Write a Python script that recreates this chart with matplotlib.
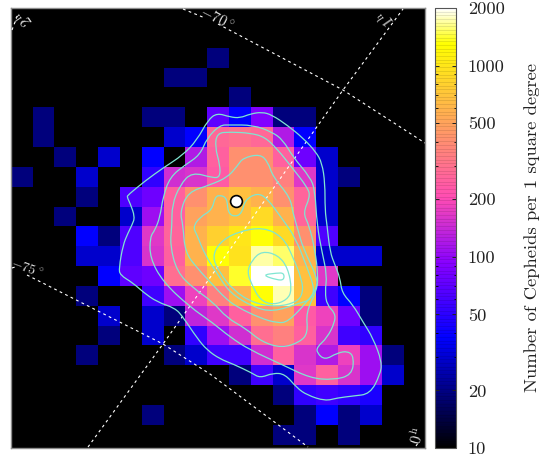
#!/usr/bin/env python3
"""
Cepheid surface density map with contours and a log colour bar
"""

import matplotlib
matplotlib.use('Agg')
import matplotlib.pyplot as plt
from matplotlib.colors import LogNorm
from matplotlib.patches import PathPatch
from matplotlib.path import Path
import numpy as np

plt.rcParams['font.family'] = ['cmr10', 'DejaVu Sans']
plt.rcParams['mathtext.fontset'] = 'cm'
plt.rcParams['axes.formatter.use_mathtext'] = True

# cells per map row, as {column: count}
# read off the colour of each square, empty squares are below the colour range
rows = [
    {},
    {},
    {9: 19},
    {7: 19, 8: 19},
    {10: 19},
    {1: 19, 6: 19, 7: 19, 9: 71, 10: 38, 11: 88, 12: 19, 13: 19},
    {1: 19, 7: 29, 8: 38, 9: 270, 10: 300, 11: 270, 12: 120, 13: 38},
    {2: 19, 4: 29, 6: 38, 8: 120, 9: 251, 10: 410, 11: 410, 12: 251, 13: 79, 14: 29},
    {0: 19, 3: 29, 6: 52, 7: 150, 8: 157, 9: 234, 10: 410, 11: 410, 12: 345, 13: 165, 14: 29, 15: 19},
    {3: 19, 5: 64, 6: 79, 7: 251, 8: 410, 9: 578, 10: 680, 11: 578, 12: 410, 13: 260, 14: 29},
    {2: 19, 5: 29, 6: 108, 7: 251, 8: 490, 9: 578, 10: 680, 11: 885, 12: 578, 13: 260, 14: 29},
    {3: 38, 4: 19, 5: 64, 6: 165, 7: 260, 8: 578, 9: 800, 10: 1000, 11: 1320, 12: 885, 13: 410, 14: 64},
    {3: 29, 4: 29, 5: 64, 6: 157, 7: 251, 8: 578, 9: 1320, 10: 950, 11: 1720, 12: 1530, 13: 578, 14: 29, 15: 29, 16: 29},
    {4: 38, 5: 71, 6: 79, 7: 290, 8: 410, 9: 680, 10: 1400, 11: 2000, 12: 2000, 13: 680, 14: 165},
    {3: 19, 6: 57, 7: 108, 8: 185, 9: 345, 10: 578, 11: 1320, 12: 1750, 13: 680, 14: 57, 15: 38, 16: 19},
    {4: 29, 6: 29, 7: 19, 8: 134, 9: 165, 10: 251, 11: 410, 12: 490, 13: 234, 14: 185, 15: 79, 16: 19},
    {4: 19, 6: 29, 8: 52, 9: 108, 10: 150, 11: 290, 12: 345, 13: 251, 14: 157, 15: 57, 16: 52},
    {3: 19, 7: 19, 8: 29, 9: 57, 10: 57, 11: 150, 12: 251, 13: 157, 14: 120, 15: 185, 16: 108, 17: 19},
    {10: 19, 11: 57, 12: 29, 13: 165, 14: 251, 15: 157, 16: 108, 17: 29},
    {12: 19, 13: 52, 14: 57, 15: 52, 16: 45},
    {6: 19, 13: 19, 14: 38, 15: 19, 16: 29},
    {12: 19, 13: 19, 15: 19},
]

cbar_ticks = [10, 20, 50, 100, 200, 500, 1000, 2000]
cbar_minor = [30, 40, 60, 70, 80, 90, 300, 400, 600, 700, 800, 900]

# contour levels, traced in map units
contour_a = [(127, 197), (128, 195), (145, 181), (163, 168), (183, 155), (197, 140), (208, 120), (217, 113),
             (230, 117), (240, 118), (250, 114), (262, 112), (272, 115), (287, 125), (303, 138), (316, 152),
             (322, 163), (325, 183), (325, 210), (327, 225), (330, 252), (335, 265), (340, 278), (342, 293),
             (353, 305), (363, 322), (373, 338), (382, 362), (380, 375), (370, 394), (353, 396), (337, 398),
             (325, 401), (307, 395), (297, 388), (285, 374), (273, 373), (260, 378), (252, 373), (233, 364),
             (220, 359), (207, 350), (197, 338), (183, 317), (175, 308), (157, 302), (143, 292), (133, 283),
             (120, 275), (119, 268), (123, 245), (128, 233), (132, 225), (135, 217), (130, 203), (127, 197)]
contour_b = [(220, 125), (207, 138), (200, 155), (185, 165), (170, 177), (163, 197), (160, 217), (155, 230),
             (150, 237), (150, 258), (163, 282), (190, 307), (213, 323), (230, 337), (250, 350), (283, 365),
             (310, 378), (333, 380), (352, 375), (354, 357), (348, 351), (337, 353), (325, 360), (317, 353),
             (317, 347), (327, 338), (335, 322), (335, 313), (327, 305), (325, 292), (327, 275), (322, 252),
             (317, 225), (315, 190), (310, 177), (293, 157), (283, 140), (272, 132), (253, 125), (230, 125),
             (220, 125)]
contour_c = [(217, 133), (215, 147), (220, 165), (220, 177), (213, 178), (192, 172), (180, 185), (172, 205),
             (172, 225), (170, 245), (177, 272), (193, 288), (213, 302), (227, 318), (245, 328), (262, 342),
             (282, 348), (300, 342), (308, 333), (306, 312), (317, 290), (318, 275), (315, 250), (309, 225),
             (303, 213), (310, 197), (308, 188), (290, 165), (278, 150), (265, 137), (250, 133), (230, 132),
             (217, 133)]
contour_d = [(243, 158), (238, 165), (228, 177), (210, 185), (188, 192), (180, 212), (183, 225), (185, 252),
             (197, 268), (213, 285), (225, 298), (237, 307), (260, 318), (277, 323), (288, 322), (307, 302),
             (317, 288), (317, 277), (303, 248), (298, 230), (293, 213), (290, 197), (273, 177), (268, 162),
             (260, 154), (243, 158)]
contour_e = [(193, 227), (200, 217), (212, 210), (215, 197), (220, 195), (227, 198), (228, 213), (235, 217),
             (242, 213), (245, 200), (257, 193), (267, 198), (283, 220), (295, 237), (307, 267), (315, 290),
             (310, 300), (300, 303), (273, 312), (253, 307), (230, 293), (218, 275), (205, 255), (197, 235),
             (193, 227)]
contour_f = [(212, 257), (220, 242), (237, 232), (263, 227), (283, 237), (293, 257), (302, 280), (303, 293),
             (297, 302), (277, 307), (253, 303), (233, 290), (220, 273), (212, 257)]
contour_g = [(247, 272), (252, 260), (262, 251), (278, 255), (288, 268), (292, 290), (287, 300), (273, 305),
             (260, 300), (252, 285), (247, 272)]
contour_h = [(262, 275), (277, 273), (284, 273), (284, 280), (277, 280), (262, 275)]

# coordinate grid, broken where the labels sit
dec_70_a = [(183, 9), (205, 18)]
dec_70_b = [(218, 24), (343, 90), (425, 143)]
dec_75_a = [(12, 268), (15, 267)]
dec_75_b = [(27, 275), (163, 344), (210, 374), (308, 447)]
ra_1h = [(88, 447), (163, 344), (343, 90), (403, 9)]
ra_2h = [(12, 30), (18, 14)]
ra_0h = [(416, 446), (418, 443)]

# the point marked on the map
center = (236, 201)

X0, X1 = 10.7, 425.0
Y0, Y1 = 8.0, 448.0
CELL_W, CELL_H = 21.83, 19.85

grid = np.full((len(rows), 19), np.nan)
for i, row in enumerate(rows):
    for j, val in row.items():
        grid[i, j] = val

xedges = X0 + CELL_W * np.arange(grid.shape[1] + 1)
yedges = Y0 + CELL_H * np.arange(grid.shape[0] + 1)


def smooth_loop(points):
    """Closed path with the traced points as quadratic control points"""
    pts = np.array(points[:-1], dtype=float)
    mids = (pts + np.roll(pts, -1, axis=0)) / 2
    verts = [mids[-1]]
    codes = [Path.MOVETO]
    for p, m in zip(pts, mids):
        verts += [p, m]
        codes += [Path.CURVE3, Path.CURVE3]
    return Path(verts, codes)


fig = plt.figure(figsize=(5.45, 4.57), dpi=100, facecolor='white')
ax = fig.add_axes([X0 / 545, 1 - Y1 / 457, (X1 - X0) / 545, (Y1 - Y0) / 457], facecolor='black')
ax.set_xlim(X0, X1)
ax.set_ylim(Y1, Y0)
ax.set_xticks([])
ax.set_yticks([])
for s in ax.spines.values():
    s.set_color('#8c8c8c')
    s.set_linewidth(1)

norm = LogNorm(vmin=10, vmax=2000)
mesh = ax.pcolormesh(xedges, yedges, grid, cmap='gnuplot2', norm=norm, linewidth=0)

for line in [dec_70_a, dec_70_b, dec_75_a, dec_75_b, ra_1h, ra_2h, ra_0h]:
    xs, ys = zip(*line)
    ax.plot(xs, ys, color='white', lw=0.8, ls=(0, (2.5, 3)), zorder=3)

for line in [contour_a, contour_b, contour_c, contour_d, contour_e, contour_f, contour_g, contour_h]:
    ax.add_patch(PathPatch(smooth_loop(line), fill=False, edgecolor='#7fe6d2', lw=0.9, zorder=4))

ax.plot([center[0]], [center[1]], 'o', ms=8.5, mfc='white', mec='black', mew=1.2, zorder=5)

for txt, x, y, rot, size in [(r'$-70^\circ$', 217, 18, -27, 11), (r'$-75^\circ$', 27, 269, -20, 10),
                             (r'$1^{\,\mathrm{h}}$', 387, 17, 125, 11), (r'$2^{\,\mathrm{h}}$', 25, 17, 125, 11),
                             (r'$0^{\,\mathrm{h}}$', 418, 435, 75, 11)]:
    ax.text(x, y, txt, color='#dddddd', fontsize=size, rotation=rot, ha='center', va='center', zorder=6)

cax = fig.add_axes([435 / 545, 1 - 448 / 457, 21 / 545, 440 / 457])
cb = fig.colorbar(mesh, cax=cax)
cb.set_ticks(cbar_ticks)
cb.set_ticklabels([str(t) for t in cbar_ticks])
cax.set_yticks(cbar_minor, minor=True)
cax.set_yticklabels([], minor=True)
# faint bands like the colour steps in the bar
cax.hlines(np.logspace(1, np.log10(2000), 120), 0, 1, color='black', lw=0.5, alpha=0.14, zorder=2.5)
cax.tick_params(which='major', direction='in', length=3, width=0.7, left=True, right=True,
                labelsize=13.2, pad=8.5, colors='#222222')
cax.tick_params(which='minor', direction='in', length=1.8, width=0.6, left=True, right=True)
cb.outline.set_edgecolor('#555555')
cb.outline.set_linewidth(0.8)
cb.set_label('Number of Cepheids per 1 square degree', fontsize=13.4, labelpad=14, color='#222222')

plt.savefig('out.png', dpi=100)
plt.close()
print('Created: out.png')
